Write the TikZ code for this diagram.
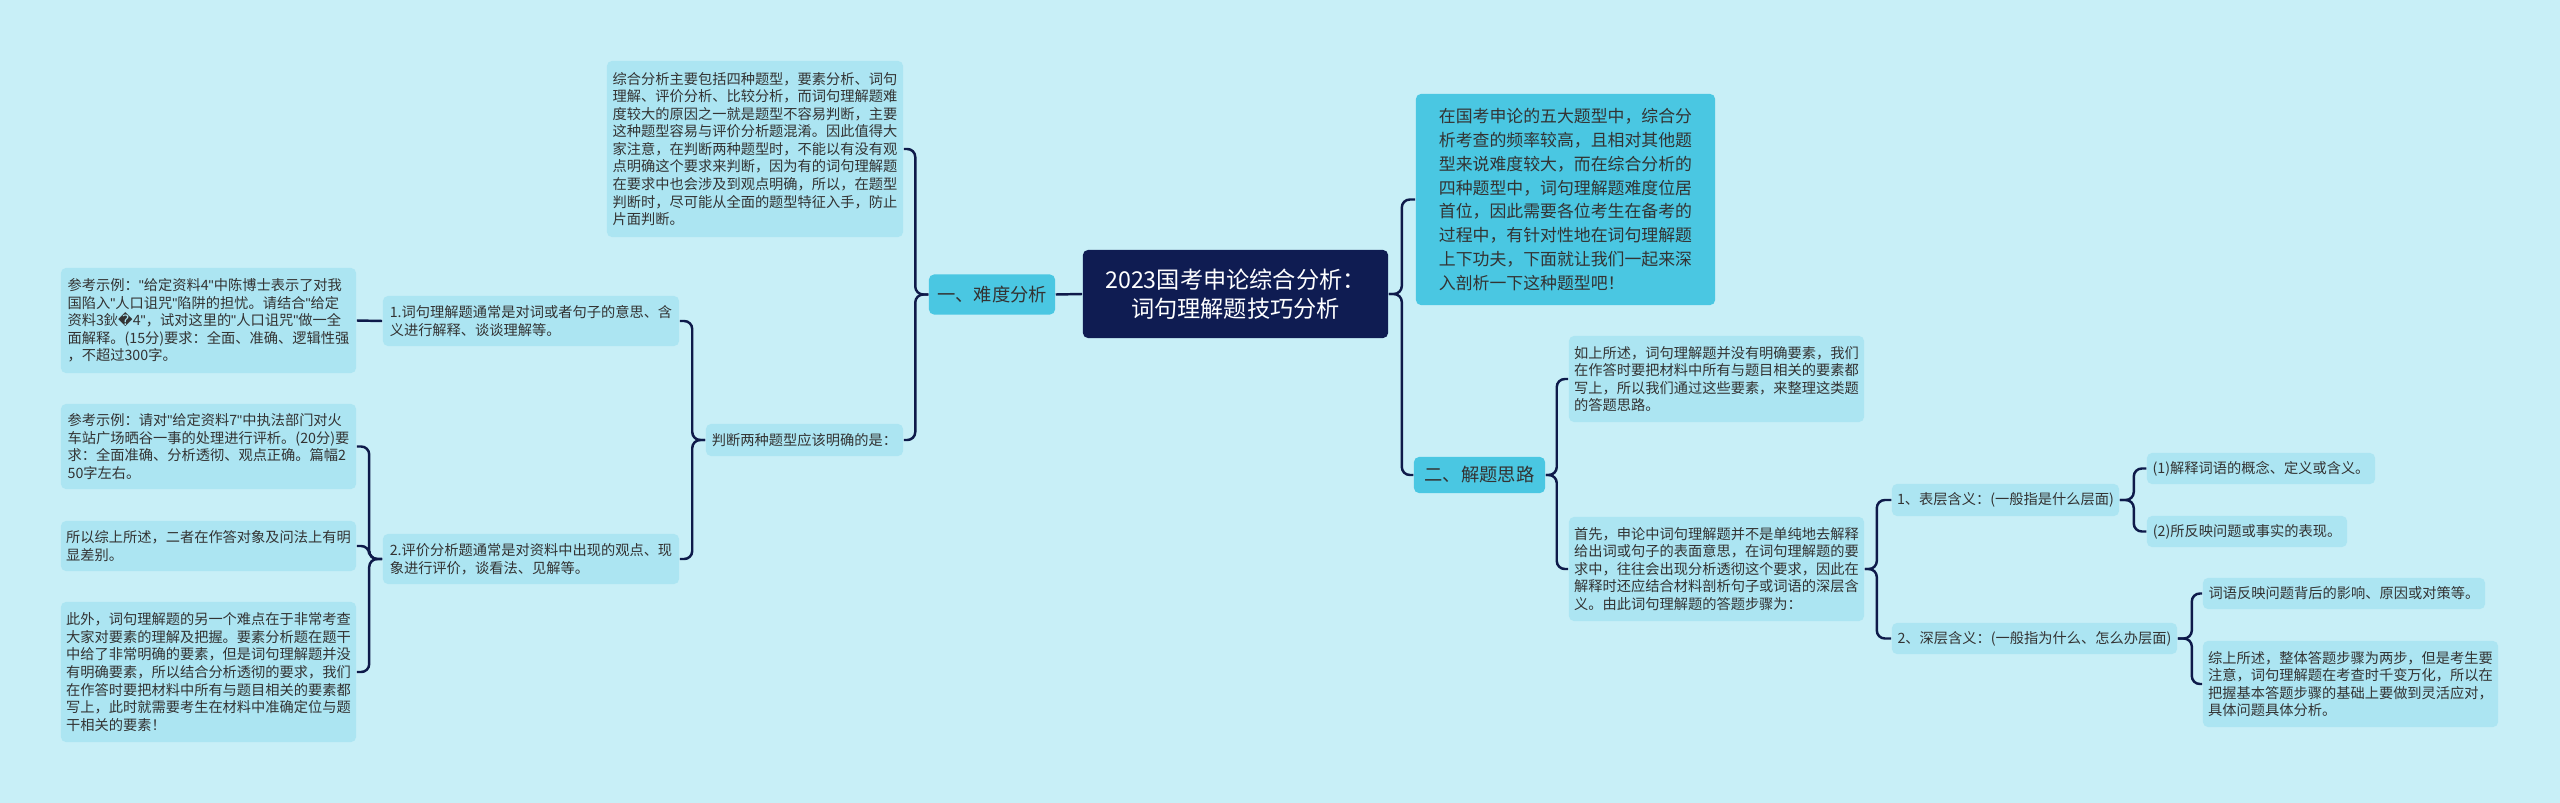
\documentclass[tikz,border=0pt]{standalone}
\usepackage{fontspec}
\setmainfont{Noto Sans CJK SC}
\newfontfamily\dv{DejaVu Sans}
\newfontfamily\lat{Liberation Sans}
\newcommand\qt{{\lat"}}
\usepackage{tikz}

\definecolor{bgcol}{HTML}{C8EFF7}
\definecolor{leafcol}{HTML}{ACE5F2}
\definecolor{branchcol}{HTML}{4AC7E2}
\definecolor{rootcol}{HTML}{0F1C52}
\definecolor{linecol}{HTML}{0E1A4A}
\definecolor{txtcol}{HTML}{333333}

\tikzset{
  leaf/.style={rectangle, fill=leafcol, rounded corners=0.05cm, text=txtcol, align=left, inner sep=0pt,
    font=\fontsize{4.05pt}{5pt}\selectfont},
  branch/.style={leaf, fill=branchcol, font=\fontsize{5.2pt}{6pt}\selectfont},
  intro/.style={leaf, fill=branchcol, font=\fontsize{4.8pt}{6.8pt}\selectfont},
  root/.style={leaf, fill=rootcol, text=white, align=center, font=\fontsize{6.6pt}{8.4pt}\selectfont},
  link/.style={draw=linecol, line width=0.7pt, rounded corners=0.08cm}
}

\begin{document}
\begin{tikzpicture}[x=0.01cm, y=-0.01cm]
        \fill[bgcol] (0,0) rectangle (2560,803);
        \useasboundingbox (0,0) rectangle (2560,803);

        \draw (1235.5, 294) node(root)[root, minimum width=3.05cm, minimum height=0.88cm]{2023国考申论综合分析：\\词句理解题技巧分析};

        % left side
        \draw (992, 294.5) node(nandu)[branch, minimum width=1.26cm, minimum height=0.40cm]{一、难度分析};
        \draw (755, 149) node(zonghe)[leaf, minimum width=2.96cm, minimum height=1.76cm]{综合分析主要包括四种题型，要素分析、词句\\理解、评价分析、比较分析，而词句理解题难\\度较大的原因之一就是题型不容易判断，主要\\这种题型容易与评价分析题混淆。因此值得大\\家注意，在判断两种题型时，不能以有没有观\\点明确这个要求来判断，因为有的词句理解题\\在要求中也会涉及到观点明确，所以，在题型\\判断时，尽可能从全面的题型特征入手，防止\\片面判断。};
        \draw (804.5, 440) node(panduan)[leaf, minimum width=1.97cm, minimum height=0.32cm]{判断两种题型应该明确的是：};
        \draw (531, 321) node(cijv)[leaf, minimum width=2.96cm, minimum height=0.50cm]{1.词句理解题通常是对词或者句子的意思、含\\义进行解释、谈谈理解等。};
        \draw (531, 559) node(pingjia)[leaf, minimum width=2.96cm, minimum height=0.50cm]{2.评价分析题通常是对资料中出现的观点、现\\象进行评价，谈看法、见解等。};
        \draw (208.5, 320.5) node(li1)[leaf, minimum width=2.95cm, minimum height=1.05cm]{参考示例：\qt 给定资料4\qt 中陈博士表示了对我\\国陷入\qt 人口诅咒\qt 陷阱的担忧。请结合\qt 给定\\资料3鈥{\dv �}4\qt ，试对这里的\qt 人口诅咒\qt 做一全\\面解释。(15分)要求：全面、准确、逻辑性强\\，不超过300字。};
        \draw (208.5, 446.5) node(li2)[leaf, minimum width=2.95cm, minimum height=0.85cm]{参考示例：请对\qt 给定资料7\qt 中执法部门对火\\车站广场晒谷一事的处理进行评析。(20分)要\\求：全面准确、分析透彻、观点正确。篇幅2\\50字左右。};
        \draw (208.5, 546) node(chabie)[leaf, minimum width=2.95cm, minimum height=0.50cm]{所以综上所述，二者在作答对象及问法上有明\\显差别。};
        \draw (208.5, 672) node(nandian)[leaf, minimum width=2.95cm, minimum height=1.40cm]{此外，词句理解题的另一个难点在于非常考查\\大家对要素的理解及把握。要素分析题在题干\\中给了非常明确的要素，但是词句理解题并没\\有明确要素，所以结合分析透彻的要求，我们\\在作答时要把材料中所有与题目相关的要素都\\写上，此时就需要考生在材料中准确定位与题\\干相关的要素！};

        % right side
        \draw (1565.5, 199.5) node(yinyan)[intro, minimum width=2.99cm, minimum height=2.11cm]{在国考申论的五大题型中，综合分\\析考查的频率较高，且相对其他题\\型来说难度较大，而在综合分析的\\四种题型中，词句理解题难度位居\\首位，因此需要各位考生在备考的\\过程中，有针对性地在词句理解题\\上下功夫，下面就让我们一起来深\\入剖析一下这种题型吧！};
        \draw (1479.5, 475) node(silu)[branch, minimum width=1.31cm, minimum height=0.36cm]{二、解题思路};
        \draw (1716.5, 379) node(rushang)[leaf, minimum width=2.95cm, minimum height=0.86cm]{如上所述，词句理解题并没有明确要素，我们\\在作答时要把材料中所有与题目相关的要素都\\写上，所以我们通过这些要素，来整理这类题\\的答题思路。};
        \draw (1716.5, 569) node(shouxian)[leaf, minimum width=2.95cm, minimum height=1.04cm]{首先，申论中词句理解题并不是单纯地去解释\\给出词或句子的表面意思，在词句理解题的要\\求中，往往会出现分析透彻这个要求，因此在\\解释时还应结合材料剖析句子或词语的深层含\\义。由此词句理解题的答题步骤为：};
        \draw (2005.5, 500) node(biaoceng)[leaf, minimum width=2.27cm, minimum height=0.32cm]{1、表层含义：(一般指是什么层面)};
        \draw (2034.5, 638.5) node(shenceng)[leaf, minimum width=2.85cm, minimum height=0.31cm]{2、深层含义：(一般指为什么、怎么办层面)};
        \draw (2261, 468.5) node(gainian)[leaf, minimum width=2.28cm, minimum height=0.31cm]{(1)解释词语的概念、定义或含义。};
        \draw (2247, 531.5) node(biaoxian)[leaf, minimum width=2.00cm, minimum height=0.31cm]{(2)所反映问题或事实的表现。};
        \draw (2344, 593.5) node(yingxiang)[leaf, minimum width=2.82cm, minimum height=0.31cm]{词语反映问题背后的影响、原因或对策等。};
        \draw (2350.5, 684) node(zongshang)[leaf, minimum width=2.95cm, minimum height=0.86cm]{综上所述，整体答题步骤为两步，但是考生要\\注意，词句理解题在考查时千变万化，所以在\\把握基本答题步骤的基础上要做到灵活应对，\\具体问题具体分析。};

        % connectors
        \draw[link] (root.west) -- (nandu.east);
        \foreach \c in {zonghe, panduan}
            \draw[link] (nandu.west) -- ++(-13,0) |- (\c.east);
        \foreach \c in {cijv, pingjia}
            \draw[link] (panduan.west) -- ++(-13,0) |- (\c.east);
        \draw[link] (cijv.west) -- (li1.east);
        \foreach \c in {li2, chabie, nandian}
            \draw[link] (pingjia.west) -- ++(-13,0) |- (\c.east);
        \foreach \c in {yinyan, silu}
            \draw[link] (root.east) -- ++(13,0) |- (\c.west);
        \foreach \c in {rushang, shouxian}
            \draw[link] (silu.east) -- ++(11,0) |- (\c.west);
        \foreach \c in {biaoceng, shenceng}
            \draw[link] (shouxian.east) -- ++(12,0) |- (\c.west);
        \foreach \c in {gainian, biaoxian}
            \draw[link] (biaoceng.east) -- ++(14,0) |- (\c.west);
        \foreach \c in {yingxiang, zongshang}
            \draw[link] (shenceng.east) -- ++(14,0) |- (\c.west);
\end{tikzpicture}
\end{document}
